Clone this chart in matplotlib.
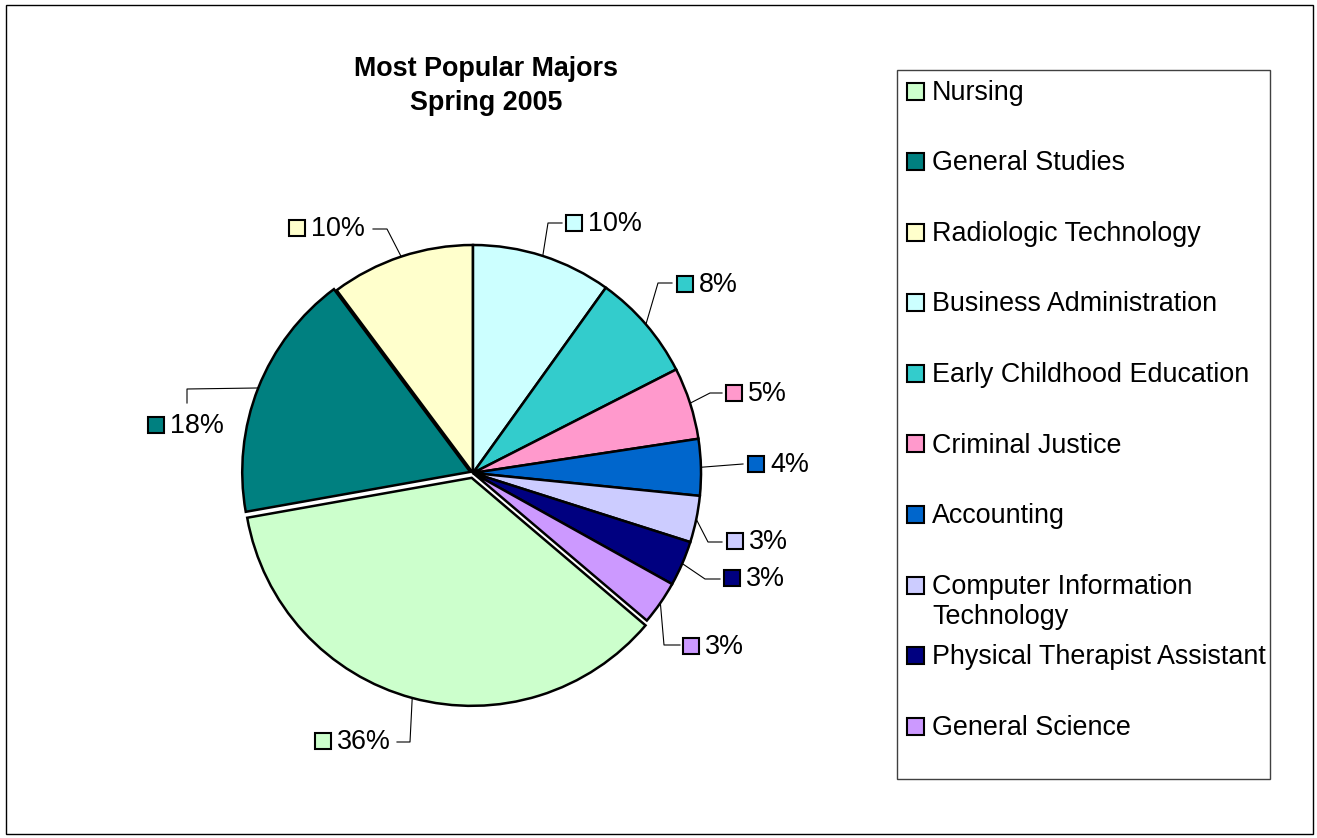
import matplotlib
matplotlib.use("Agg")
import numpy as np
import matplotlib.pyplot as plt
from matplotlib.patches import Rectangle

plt.rcParams["font.family"] = ["Liberation Sans", "DejaVu Sans"]

# data (legend order)
majors = ["Nursing", "General Studies", "Radiologic Technology", "Business Administration",
          "Early Childhood Education", "Criminal Justice", "Accounting",
          "Computer Information\nTechnology", "Physical Therapist Assistant", "General Science"]
shares = [36.0, 17.6, 10.2, 9.9, 7.6, 5.1, 4.0, 3.3, 3.2, 3.1]
colors = ["#CCFFCC", "#008080", "#FFFFCC", "#CCFFFF", "#33CCCC",
          "#FF99CC", "#0066CC", "#CCCCFF", "#000080", "#CC99FF"]

W, H = 1317, 838
R = 228
FS = 19.4
explode = [0.022 * R, 0.013 * R] + [0] * 8

fig = plt.figure(figsize=(W / 100, H / 100), dpi=100)
ax = fig.add_axes([0, 0, 1, 1])

# pixel coords, y flipped -> counterclock=True draws clockwise on screen.
# Business Administration starts at 12 o'clock.
tail = sum(shares[3:]) / sum(shares)
wedges, _ = ax.pie(shares, colors=colors, explode=explode, center=(473, 473), radius=R,
                   startangle=-90 + 360 * tail, counterclock=True,
                   wedgeprops=dict(edgecolor="black", linewidth=1.8))
ax.set_xlim(0, W); ax.set_ylim(H, 0); ax.set_aspect("equal"); ax.axis("off")

# percentage labels: square centre, then leader (label end, elbow) -> wedge edge
sq_pos = [(323, 741), (156, 425), (297, 228), (574, 223), (685, 284),
          (734, 393), (756, 464), (735, 541), (732, 578), (691, 646)]
leaders = [[(397, 742), (410, 742)], [(187, 403), (187, 389)], [(373, 229), (387, 229)],
           [(562, 223), (548, 223)], [(672, 283), (658, 283)], [(722, 393), (710, 393)],
           [(743, 464), (730, 465)], [(722, 542), (708, 542)], [(720, 579), (705, 579)],
           [(680, 645), (664, 645)]]
tot = sum(shares)
for w, v, col, (sx, sy), ld in zip(wedges, shares, colors, sq_pos, leaders):
    t = np.deg2rad((w.theta1 + w.theta2) / 2)
    ex, ey = w.center[0] + w.r * np.cos(t), w.center[1] + w.r * np.sin(t)
    xs = [ld[0][0], ld[1][0], ex]; ys = [ld[0][1], ld[1][1], ey]
    ax.plot(xs, ys, color="black", lw=0.8, zorder=1)
    ax.add_patch(Rectangle((sx - 8, sy - 8), 16, 16, fc=col, ec="black", lw=1.5, zorder=3))
    ax.text(sx + 14, sy + 1, f"{round(v / tot * 100)}%", fontsize=FS, va="center", ha="left")

# title
ax.text(486, 86, "Most Popular Majors\nSpring 2005", ha="center", va="center",
        fontsize=FS, fontweight="bold", linespacing=1.4)

# legend box
ax.add_patch(Rectangle((897, 70), 373, 709, fill=False, ec="#404040", lw=1))
for i, (name, col) in enumerate(zip(majors, colors)):
    y = 91 + 70.6 * i
    ax.add_patch(Rectangle((907, y - 8.5), 17, 17, fc=col, ec="black", lw=1.5))
    for k, line in enumerate(name.split("\n")):
        ax.text(932, y + 1.5 + 30 * k, line, fontsize=FS, va="center", ha="left")

# outer chart frame
ax.add_patch(Rectangle((6, 5), 1307, 829, fill=False, ec="black", lw=1))

fig.savefig("out.png", dpi=100)
